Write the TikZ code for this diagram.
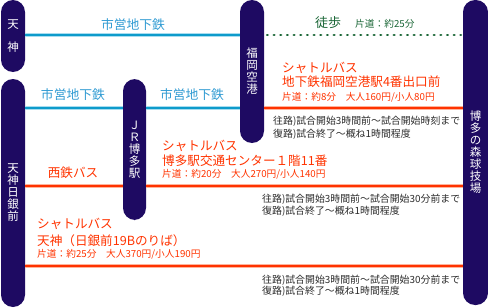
\documentclass[tikz,border=0pt]{standalone}
\usepackage{fontspec}
\setmainfont{Noto Sans CJK JP}
\usetikzlibrary{calc}
\definecolor{navy}{HTML}{1E0A62}
\definecolor{subcyan}{HTML}{0E9BCB}
\definecolor{subcyanlt}{HTML}{A8DDF0}
\definecolor{subtext}{HTML}{2F9AD2}
\definecolor{busred}{HTML}{FF3300}
\definecolor{buslt}{HTML}{FFB49C}
\definecolor{walkgreen}{HTML}{1A6636}
\definecolor{txt}{HTML}{2A2A2A}
\begin{document}
\begin{tikzpicture}[x=1pt,y=-1pt,
  pill/.style={fill=navy, rounded corners=12pt, inner sep=0pt, text=white,
    font=\fontsize{11.5}{12}\selectfont, align=center, minimum width=24pt},
  subway/.style={draw=subcyanlt, double=subcyan, double distance=2.2pt, line width=0.5pt},
  busline/.style={draw=buslt, double=busred, double distance=2.6pt, line width=0.4pt},
  walkline/.style={draw=walkgreen, line width=2.9pt, line cap=round, dash pattern=on 0.4pt off 6.27pt},
  subtxt/.style={inner sep=0pt, text=subtext, font=\fontsize{12.8}{13}\selectfont},
  redhead/.style={inner sep=0pt, anchor=west, text=busred, font=\fontsize{12.6}{13}\selectfont},
  redsmall/.style={inner sep=0pt, anchor=west, text=busred, font=\fontsize{9.7}{10}\selectfont},
  info/.style={inner sep=0pt, anchor=west, text=txt, font=\fontsize{9.9}{10}\selectfont},
]
\useasboundingbox (0,0) rectangle (488,308);

% stations
\node[pill, minimum height=72pt] (tenjin) at (13,36) {天\\[11pt]神};
\node[pill, minimum height=228pt] (nichigin) at (13,193) {天\\神\\日\\銀\\前};
\node[pill, minimum width=23pt, minimum height=141pt] (jr) at (134.5,149.5) {Ｊ\\Ｒ\\博\\多\\駅};
\node[pill, minimum height=143pt] (fukuoka) at (252,71.5) {福\\岡\\空\\港};
\node[pill, minimum width=25pt, minimum height=305pt] (hakata) at (475.5,152.5) {博\\多\\の\\森\\球\\技\\場};

% rows
\coordinate (ya) at (0,35);
\coordinate (yb) at (0,108);
\coordinate (yc) at (0,186);
\coordinate (yd) at (0,266);

\draw[subway] (tenjin.east |- ya) -- (fukuoka.west |- ya);
\draw[walkline, shorten <=3pt, shorten >=2pt] (fukuoka.east |- ya) -- (hakata.west |- ya);
\draw[subway] (nichigin.east |- yb) -- (jr.west |- yb);
\draw[subway] (jr.east |- yb) -- (fukuoka.west |- yb);
\draw[busline] (fukuoka.east |- yb) -- (hakata.west |- yb);
\draw[busline] (nichigin.east |- yc) -- (jr.west |- yc);
\draw[busline] (jr.east |- yc) -- (hakata.west |- yc);
\draw[busline] (nichigin.east |- yd) -- (hakata.west |- yd);

% labels
\node[subtxt] (s1) at (133,24.5) {市営地下鉄};
\node[subtxt] (s2) at (73,95) {市営地下鉄};
\node[subtxt] (s3) at (192,95) {市営地下鉄};
\node[inner sep=0pt, anchor=west, text=walkgreen, font=\fontsize{13}{13}\selectfont] (w1) at (315,23) {徒歩};
\node[inner sep=0pt, anchor=west, text=walkgreen, font=\fontsize{9.7}{10}\selectfont] (w2) at (355,24) {片道：約25分};
\node[inner sep=0pt, text=busred, font=\fontsize{12.6}{13}\selectfont] (nb) at (73,173) {西鉄バス};

% shuttle 1
\node[redhead] (a1) at (282,68) {シャトルバス};
\node[redhead] (a2) at (282,82) {地下鉄福岡空港駅4番出口前};
\node[redsmall] (a3) at (282,97) {片道：約8分　大人160円/小人80円};
\node[info] (a4) at (273,121) {往路)試合開始3時間前～試合開始時刻まで};
\node[info] (a5) at (273,134.5) {復路)試合終了～概ね1時間程度};

% shuttle 2
\node[redhead] (b1) at (162,146) {シャトルバス};
\node[redhead] (b2) at (162,161) {博多駅交通センター１階11番};
\node[redsmall] (b3) at (162,174) {片道：約20分　大人270円/小人140円};
\node[info] (b4) at (262,199) {往路)試合開始3時間前～試合開始30分前まで};
\node[info] (b5) at (262,211) {復路)試合終了～概ね1時間程度};

% shuttle 3
\node[redhead] (c1) at (37,224) {シャトルバス};
\node[redhead] (c2) at (37,241) {天神（日銀前19Bのりば）};
\node[redsmall] (c3) at (37,254) {片道：約25分　大人370円/小人190円};
\node[info] (c4) at (262,280) {往路)試合開始3時間前～試合開始30分前まで};
\node[info] (c5) at (262,291) {復路)試合終了～概ね1時間程度};
\end{tikzpicture}
\end{document}
